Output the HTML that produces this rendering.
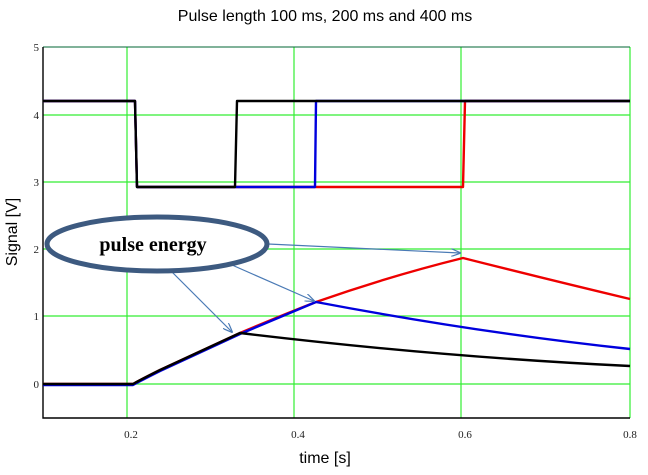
<!DOCTYPE html>
<html><head><style>body{margin:0;background:#fff}svg{display:block}</style></head><body>
<svg width="648" height="475" xmlns="http://www.w3.org/2000/svg">
<defs><marker id="ar" markerWidth="10" markerHeight="8" refX="9" refY="4" orient="auto" markerUnits="userSpaceOnUse"><path d="M0,0 L10,4 L0,8" fill="none" stroke="#4a7ab5" stroke-width="1.2"/></marker></defs>
<text x="325" y="21" font-family="Liberation Sans, sans-serif" font-size="16" text-anchor="middle">Pulse length 100 ms, 200 ms and 400 ms</text>
<g stroke="#33ee33" stroke-width="1.2">
<line x1="127" y1="47" x2="127" y2="418"/><line x1="294" y1="47" x2="294" y2="418"/><line x1="461" y1="47" x2="461" y2="418"/><line x1="630" y1="47" x2="630" y2="418"/>
<line x1="43" y1="115" x2="630" y2="115"/><line x1="43" y1="182" x2="630" y2="182"/><line x1="43" y1="249" x2="630" y2="249"/><line x1="43" y1="316" x2="630" y2="316"/><line x1="43" y1="384" x2="630" y2="384"/>
</g>
<line x1="43" y1="47" x2="630" y2="47" stroke="#063" stroke-width="1"/>
<path d="M43,47 V418 H630" fill="none" stroke="#000" stroke-width="1.4"/>
<g font-family="Liberation Serif, serif" font-size="11" fill="#222">
<text x="39" y="51" text-anchor="end">5</text><text x="39" y="119" text-anchor="end">4</text><text x="39" y="186" text-anchor="end">3</text><text x="39" y="253" text-anchor="end">2</text><text x="39" y="320" text-anchor="end">1</text><text x="39" y="388" text-anchor="end">0</text>
<text x="131" y="438" text-anchor="middle">0.2</text><text x="298" y="438" text-anchor="middle">0.4</text><text x="465" y="438" text-anchor="middle">0.6</text><text x="630" y="438" text-anchor="middle">0.8</text>
</g>
<text x="325" y="463" font-family="Liberation Sans, sans-serif" font-size="16" text-anchor="middle">time [s]</text>
<text transform="translate(17,232) rotate(-90)" font-family="Liberation Sans, sans-serif" font-size="16" text-anchor="middle">Signal [V]</text>
<g fill="none" stroke-width="2.4" stroke-linejoin="round">
<path d="M43,101 H135 L137,187 H463 L465,101 H630" stroke="#e00"/>
<path d="M43,101 H135 L137,187 H315 L316,101 H630" stroke="#00d"/>
<path d="M43,101 H135 L137,187 H235 L237,101 H630" stroke="#000"/>
<path d="M43,384 H133 Q140,380 160,370 L240,333 Q280,316 316,302 Q390,276 463,258 Q550,280 630,299" stroke="#e00"/>
<path d="M43,385 H133 Q140,381 160,371 L240,334 Q280,317 316,302 Q480,333 630,349" stroke="#00d"/>
<path d="M43,384 H133 Q140,380 160,370 L240,333 Q440,357 630,366" stroke="#000"/>
</g>
<g stroke="#4a7ab5" stroke-width="1.2" marker-end="url(#ar)">
<line x1="268" y1="244" x2="460" y2="253"/>
<line x1="232" y1="265" x2="314" y2="301"/>
<line x1="170" y1="270" x2="232" y2="332"/>
</g>
<ellipse cx="157" cy="244" rx="110" ry="27" fill="#fff" stroke="#3d5a80" stroke-width="5"/>
<text x="153" y="251" font-family="Liberation Serif, serif" font-size="20" font-weight="bold" text-anchor="middle">pulse energy</text>
</svg>
</body></html>
